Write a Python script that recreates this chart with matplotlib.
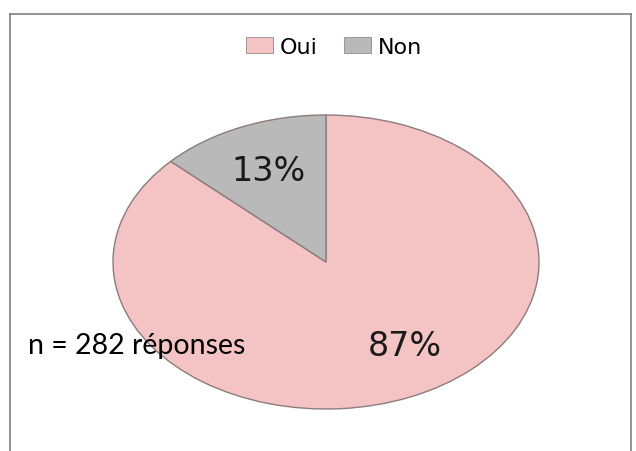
import matplotlib
matplotlib.use("Agg")
import matplotlib.pyplot as plt
from matplotlib.patches import Patch
from matplotlib.lines import Line2D

categories = ["Oui", "Non"]
values = [87, 13]
colors = ["#f4c3c4", "#b9b9b9"]
note = "n = 282 réponses"

W, H = 636, 452
fig = plt.figure(figsize=(W / 100, H / 100), dpi=100)
fig.patch.set_facecolor("white")

# frame border (bottom runs off the image)
for xs, ys in [([10, 10], [H, 15]), ([10, 631], [15, 15]), ([631, 631], [15, H])]:
    fig.add_artist(Line2D([x / W for x in xs], [1 - y / H for y in ys],
                          transform=fig.transFigure, color="#808080", lw=1.2))

cx, cy, rx, ry = 326, 263, 213, 147
ax = fig.add_axes([(cx - rx) / W, (H - (cy + ry)) / H, 2 * rx / W, 2 * ry / H])
wedges, texts, autotexts = ax.pie(
    values, colors=colors, startangle=90, counterclock=False,
    autopct=lambda p: f"{p:.0f}%", pctdistance=0.68,
    wedgeprops=dict(edgecolor="#8c7c7c", linewidth=1.0),
    textprops=dict(fontsize=24, color="#1a1a1a", family="DejaVu Sans"),
)
ax.set_aspect("auto")
ax.set_xlim(-1.0, 1.0)
ax.set_ylim(-1.0, 1.0)
autotexts[0].set_position((0.37, -0.57))

fig.text(28 / W, 1 - 346 / H, note, fontsize=20.5, family="Lato", color="black",
         ha="left", va="center")

handles = [Patch(facecolor=c, edgecolor="#9a8a8a", linewidth=0.6) for c in colors]
fig.legend(handles, categories, loc="center", bbox_to_anchor=(334 / W, 1 - 48 / H),
           ncol=2, frameon=False, handlelength=1.2, handleheight=0.7,
           handletextpad=0.3, columnspacing=1.2,
           prop=dict(family="DejaVu Sans", size=16))

fig.savefig("out.png", dpi=100)
